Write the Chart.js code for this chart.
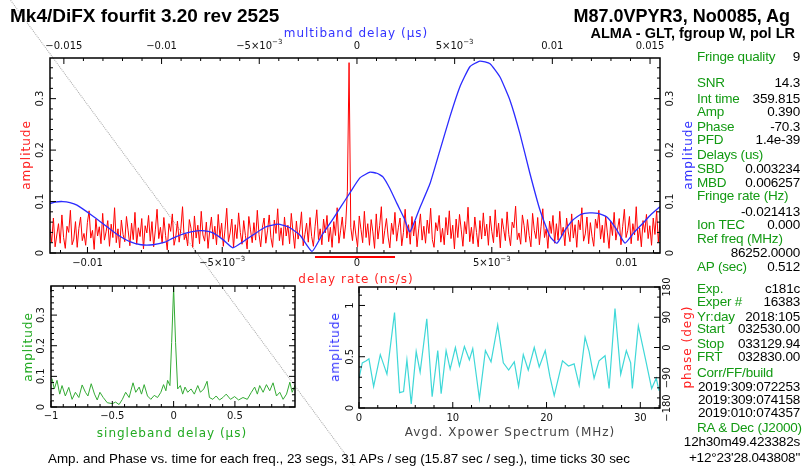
<!DOCTYPE html>
<html>
<head>
<meta charset="utf-8">
<script src="https://cdn.jsdelivr.net/npm/chart.js@4.4.0/dist/chart.umd.min.js"></script>
<style>
    body { margin: 0; background: #fff; width: 804px; height: 466px; overflow: hidden; position: relative; font-family: "Liberation Sans", Arial, sans-serif; }
    canvas { position: absolute; left: 0; top: 0; }
    .c { position: absolute; white-space: nowrap; transform: translate(-50%, -50%); }
    .rot { transform: translate(-50%, -50%) rotate(-90deg); }
    .ax { font-family: "DejaVu Sans", sans-serif; font-size: 12px; letter-spacing: 1px; }
    .row { position: absolute; left: 697px; width: 103px; display: flex; justify-content: space-between; font-size: 13.5px; line-height: 14px; white-space: nowrap; letter-spacing: -0.2px; }
    .g { color: #129a12; }
    .diag { position: absolute; left: 11px; top: 0; width: 579px; border-top: 1px dotted #aaa; transform-origin: 0 0; transform: rotate(53.6deg); }
</style>
</head>
<body>
<div class="diag"></div>
<canvas id="topChart" width="804" height="466"></canvas>
<canvas id="sbdChart" width="804" height="466"></canvas>
<canvas id="xpChart" width="804" height="466"></canvas>

<div class="c" style="left:10px;top:16px;transform:translate(0,-50%);font-size:19px;font-weight:bold;">Mk4/DiFX fourfit 3.20 rev 2525</div>
<div class="c" style="left:auto;right:14px;top:16px;transform:translate(0,-50%);font-size:18px;font-weight:bold;">M87.0VPYR3, No0085, Ag</div>
<div class="c" style="left:auto;right:9px;top:33px;transform:translate(0,-50%);font-size:14.5px;font-weight:bold;">ALMA - GLT, fgroup W, pol LR</div>

<div class="c ax" style="left:356px;top:33px;color:#3333ff;">multiband delay (μs)</div>
<div class="c ax" style="left:356px;top:279px;color:#ff2222;">delay rate (ns/s)</div>
<div class="c ax rot" style="left:26px;top:155px;color:#ff2222;">amplitude</div>
<div class="c ax rot" style="left:688px;top:155px;color:#3333ff;">amplitude</div>
<div class="c ax rot" style="left:28px;top:347px;color:#22aa22;">amplitude</div>
<div class="c ax" style="left:172px;top:433px;color:#22aa22;">singleband delay (μs)</div>
<div class="c ax rot" style="left:335px;top:347px;color:#3333ff;">amplitude</div>
<div class="c ax" style="left:510px;top:432px;color:#444;">Avgd. Xpower Spectrum (MHz)</div>
<div class="c ax rot" style="left:687px;top:347px;color:#ff2222;">phase (deg)</div>

<div class="c" style="left:339px;top:458px;font-size:13.4px;">Amp. and Phase vs. time for each freq., 23 segs, 31 APs / seg (15.87 sec / seg.), time ticks 30 sec</div>

<div class="row" style="top:50px"><span class="g">Fringe quality</span><span>9</span></div>
<div class="row" style="top:76px"><span class="g">SNR</span><span>14.3</span></div>
<div class="row" style="top:92px"><span class="g">Int time</span><span>359.815</span></div>
<div class="row" style="top:105px"><span class="g">Amp</span><span>0.390</span></div>
<div class="row" style="top:120px"><span class="g">Phase</span><span>-70.3</span></div>
<div class="row" style="top:133px"><span class="g">PFD</span><span>1.4e-39</span></div>
<div class="row" style="top:148px"><span class="g">Delays (us)</span><span></span></div>
<div class="row" style="top:162px"><span class="g">SBD</span><span>0.003234</span></div>
<div class="row" style="top:176px"><span class="g">MBD</span><span>0.006257</span></div>
<div class="row" style="top:189px"><span class="g">Fringe rate (Hz)</span><span></span></div>
<div class="row" style="top:205px"><span></span><span>-0.021413</span></div>
<div class="row" style="top:218px"><span class="g">Ion TEC</span><span>0.000</span></div>
<div class="row" style="top:232px"><span class="g">Ref freq (MHz)</span><span></span></div>
<div class="row" style="top:246px"><span></span><span>86252.0000</span></div>
<div class="row" style="top:260px"><span class="g">AP (sec)</span><span>0.512</span></div>
<div class="row" style="top:282px"><span class="g">Exp.</span><span>c181c</span></div>
<div class="row" style="top:295px"><span class="g">Exper #</span><span>16383</span></div>
<div class="row" style="top:310px"><span class="g">Yr:day</span><span>2018:105</span></div>
<div class="row" style="top:322px"><span class="g">Start</span><span>032530.00</span></div>
<div class="row" style="top:337px"><span class="g">Stop</span><span>033129.94</span></div>
<div class="row" style="top:350px"><span class="g">FRT</span><span>032830.00</span></div>
<div class="row" style="top:366px"><span class="g">Corr/FF/build</span><span></span></div>
<div class="row" style="top:380px"><span></span><span>2019:309:072253</span></div>
<div class="row" style="top:393px"><span></span><span>2019:309:074158</span></div>
<div class="row" style="top:406px"><span></span><span>2019:010:074357</span></div>
<div class="row" style="top:421px;width:110px"><span class="g">RA &amp; Dec (J2000)</span><span></span></div>
<div class="row" style="top:435px;left:680px;width:120px"><span></span><span>12h30m49.423382s</span></div>
<div class="row" style="top:451px;left:680px;width:120px"><span></span><span>+12°23'28.043808"</span></div>

<script>
// multiband delay amplitude (blue)
const mbdDelay = [-0.01581, -0.01546, -0.01505, -0.01469, -0.01433, -0.01356, -0.01279, -0.01223, -0.01162, -0.01105,
    -0.01044, -0.00983, -0.00942, -0.00880, -0.00819, -0.00778, -0.00737, -0.00686, -0.00635, -0.00583,
    -0.00532, -0.00471, -0.00404, -0.00348, -0.00292, -0.00230, -0.00179, -0.00123, -0.00082, -0.00041,
    0.00015, 0.00067, 0.00102, 0.00133, 0.00169, 0.00205, 0.00241, 0.00271, 0.00322, 0.00374,
    0.00425, 0.00476, 0.00527, 0.00578, 0.00629, 0.00681, 0.00732, 0.00783, 0.00834, 0.00885,
    0.00937, 0.00988, 0.01024, 0.01066, 0.01105, 0.01146, 0.01192, 0.01233, 0.01279, 0.01325,
    0.01372, 0.01418, 0.01464, 0.01505, 0.01551];
const mbdAmp = [0.095, 0.099, 0.100, 0.098, 0.093, 0.073, 0.051, 0.035, 0.022, 0.016,
    0.016, 0.021, 0.029, 0.038, 0.043, 0.043, 0.039, 0.026, 0.010, 0.022,
    0.035, 0.050, 0.056, 0.050, 0.035, 0.003, 0.035, 0.066, 0.090, 0.114,
    0.146, 0.157, 0.155, 0.148, 0.125, 0.096, 0.068, 0.041, 0.088, 0.135,
    0.200, 0.265, 0.323, 0.362, 0.373, 0.368, 0.342, 0.297, 0.232, 0.155,
    0.083, 0.032, 0.019, 0.045, 0.064, 0.075, 0.078, 0.077, 0.070, 0.048,
    0.019, 0.040, 0.058, 0.075, 0.090];

// delay rate spectrum (red), one value per sample from rateMin in rateStep steps
const rateMin = -0.01139;
const rateStep = 0.00006304;
const rateAmp = [
    .046,.021,.068,.012,.035,.057,.019,.074,.030,.009,.052,.040,.083,.016,.027,.061,.011,.048,.070,.024,
    .038,.015,.059,.082,.029,.044,.007,.066,.033,.051,.018,.077,.025,.041,.063,.013,.056,.030,.088,.020,
    .047,.010,.064,.036,.022,.071,.043,.014,.058,.026,.079,.017,.049,.032,.067,.008,.053,.039,.073,.023,
    .061,.012,.045,.085,.028,.050,.019,.069,.034,.006,.057,.042,.076,.015,.031,.062,.021,.047,.090,.026,
    .037,.014,.065,.048,.011,.072,.029,.054,.018,.081,.035,.023,.060,.009,.044,.070,.027,.052,.016,.075,
    .031,.058,.013,.046,.087,.022,.039,.066,.010,.055,.028,.078,.040,.017,.063,.034,.008,.071,.045,.020,
    .059,.025,.083,.036,.012,.050,.068,.019,.043,.074,.030,.011,.064,.038,.086,.024,.049,.015,.070,.033,
    .054,.018,.077,.041,.009,.062,.027,.045,.080,.014,.036,.058,.021,.069,.032,.013,.052,.084,.026,.047,
    .016,.066,.039,.073,.022,.050,.011,.061,.034,.088,.019,.043,.070,.028,.056,.120,.370,.050,.024,.063,
    .035,.012,.072,.046,.020,.081,.030,.057,.015,.065,.041,.009,.076,.027,.053,.090,.018,.044,.067,.031,
    .010,.058,.036,.079,.023,.049,.068,.014,.040,.085,.029,.055,.017,.071,.033,.062,.012,.047,.076,.025,
    .052,.019,.064,.038,.087,.026,.011,.059,.043,.073,.021,.048,.016,.069,.035,.082,.028,.054,.008,.066,
    .030,.075,.045,.013,.061,.037,.089,.022,.050,.018,.070,.040,.012,.063,.027,.078,.033,.056,.015,.072,
    .042,.020,.084,.031,.058,.010,.067,.046,.024,.080,.036,.014,.060,.049,.091,.026,.039,.017,.074,.053,
    .021,.065,.034,.012,.077,.044,.028,.069,.016,.052,.086,.030,.047,.009,.062,.038,.073,.019,.057,.025,
    .081,.033,.050,.014,.068,.041,.022,.076,.029,.055,.011,.064,.045,.088,.023,.037,.070,.018,.059,.032,
    .013,.066,.048,.083,.027,.054,.020,.072,.039,.009,.061,.034,.079,.025,.046,.067,.016,.051,.085,.030,
    .044,.071,.018,.057,.035,.090,.024,.049,.012,.063,.040,.075,.028,.053,.015,.068,.036,.082,.021,.060
];
// delay rate search window, drawn just under the axis
const rateWindow = [-0.00156, 0.00141];

// singleband delay (green)
const sbdDelay = [-0.992, -0.973, -0.951, -0.929, -0.910, -0.883, -0.855, -0.828, -0.801, -0.773,
    -0.746, -0.719, -0.699, -0.672, -0.645, -0.623, -0.601, -0.574, -0.541, -0.500,
    -0.473, -0.445, -0.418, -0.391, -0.363, -0.331, -0.309, -0.281, -0.262, -0.240,
    -0.213, -0.186, -0.158, -0.131, -0.104, -0.082, -0.063, -0.049, -0.030, -0.016,
    0.000, 0.016, 0.033, 0.055, 0.074, 0.093, 0.115, 0.142, 0.169, 0.197,
    0.219, 0.246, 0.273, 0.292, 0.320, 0.347, 0.374, 0.402, 0.429, 0.464,
    0.497, 0.530, 0.566, 0.601, 0.634, 0.661, 0.683, 0.702, 0.730, 0.757,
    0.784, 0.811, 0.839, 0.866, 0.893, 0.921, 0.948, 0.967, 0.989, 1.003];
const sbdAmp = [0.093, 0.059, 0.087, 0.042, 0.070, 0.036, 0.064, 0.025, 0.048, 0.031,
    0.072, 0.048, 0.036, 0.076, 0.042, 0.023, 0.048, 0.031, 0.014, 0.011,
    0.016, 0.008, 0.025, 0.048, 0.031, 0.079, 0.048, 0.065, 0.042, 0.073,
    0.036, 0.025, 0.038, 0.031, 0.048, 0.073, 0.053, 0.087, 0.070, 0.210,
    0.390, 0.210, 0.059, 0.070, 0.042, 0.065, 0.048, 0.059, 0.042, 0.070,
    0.048, 0.059, 0.084, 0.031, 0.025, 0.036, 0.023, 0.031, 0.042, 0.025,
    0.034, 0.023, 0.031, 0.025, 0.048, 0.065, 0.042, 0.070, 0.048, 0.073,
    0.053, 0.079, 0.036, 0.048, 0.025, 0.042, 0.081, 0.048, 0.070, 0.042];

// averaged cross power spectrum (cyan)
const xpFreq = [0.00, 0.35, 0.78, 1.06, 1.56, 2.27, 2.98, 3.79, 4.33, 4.75,
    5.11, 5.57, 6.10, 6.52, 7.23, 7.80, 8.40, 8.76, 9.29, 9.72,
    10.28, 10.71, 11.24, 11.77, 12.13, 12.84, 13.48, 14.08, 14.79, 15.39,
    15.96, 16.56, 17.02, 17.52, 18.05, 18.69, 19.22, 19.86, 20.35, 20.82,
    21.70, 22.34, 22.94, 23.48, 24.11, 24.54, 25.07, 25.60, 26.24, 26.67,
    27.30, 27.91, 28.51, 28.97, 29.15, 29.79, 30.57, 31.21, 31.70, 31.99];
const xpAmp = [0.29, 0.44, 0.46, 0.48, 0.21, 0.52, 0.33, 0.93, 0.15, 0.16,
    0.47, 0.04, 0.55, 0.35, 0.87, 0.11, 0.56, 0.14, 0.56, 0.38,
    0.59, 0.41, 0.60, 0.47, 0.58, 0.09, 0.56, 0.45, 0.81, 0.44,
    0.37, 0.45, 0.21, 0.52, 0.37, 0.59, 0.40, 0.56, 0.31, 0.12,
    0.46, 0.41, 0.43, 0.22, 0.69, 0.55, 0.29, 0.46, 0.51, 0.19,
    0.97, 0.33, 0.56, 0.44, 0.19, 0.80, 0.47, 0.19, 0.29, 0.17];

const tickFont = '"DejaVu Sans", sans-serif';

// 0, 0.01, 5x10^-3 style labels like the pgplot output
function fmtSmall(v) {
    const s = v < 0 ? '\u2212' : '';
    const a = Math.abs(v);
    if (a < 1e-9) return ['0', ''];
    if (Math.abs(a - 0.005) < 1e-9) return [s + '5\u00d710', '\u22123'];
    return [s + String(a), ''];
}
function fmtPlain(v) {
    const a = Math.abs(v);
    return [(v < 0 ? '\u2212' : '') + String(a), ''];
}

function drawLabel(ctx, side, v, p, a) {
    const [main, sup] = side.fmt(Math.round(v * 1e9) / 1e9);
    ctx.font = '10px ' + tickFont;
    const w1 = ctx.measureText(main).width;
    ctx.font = '7px ' + tickFont;
    const w2 = sup ? ctx.measureText(sup).width : 0;
    let cx, cy, rot = 0;
    if (side.edge === 'bottom') { cx = p; cy = a.bottom + side.off; }
    else if (side.edge === 'top') { cx = p; cy = a.top - side.off; }
    else if (side.edge === 'left') { cx = a.left - side.off; cy = p; rot = -Math.PI / 2; }
    else { cx = a.right + side.off; cy = p; rot = -Math.PI / 2; }
    ctx.save();
    ctx.translate(cx, cy);
    ctx.rotate(rot);
    ctx.textBaseline = 'middle';
    ctx.textAlign = 'left';
    const x0 = -(w1 + w2) / 2;
    ctx.font = '10px ' + tickFont;
    ctx.fillText(main, x0, 0);
    if (sup) {
        ctx.font = '7px ' + tickFont;
        ctx.fillText(sup, x0 + w1, -4);
    }
    ctx.restore();
}

// box + inward ticks on every side, labels where asked
const framePlugin = {
    id: 'frame',
    afterDatasetsDraw(chart, args, opts) {
        const ctx = chart.ctx;
        const a = chart.chartArea;
        ctx.save();
        ctx.strokeStyle = '#000';
        ctx.lineWidth = 1.5;
        ctx.strokeRect(a.left, a.top, a.right - a.left, a.bottom - a.top);
        ctx.lineWidth = 1;
        ctx.fillStyle = '#111';
        (opts.sides || []).forEach(side => {
            const scale = chart.scales[side.axis];
            const per = Math.round(side.major / side.minor);
            const k0 = Math.ceil(scale.min / side.minor - 1e-6);
            const k1 = Math.floor(scale.max / side.minor + 1e-6);
            for (let k = k0; k <= k1; k++) {
                const v = k * side.minor;
                const isMajor = k % per === 0;
                const len = isMajor ? 6 : 3;
                const p = scale.getPixelForValue(v);
                ctx.beginPath();
                if (side.edge === 'bottom') { ctx.moveTo(p, a.bottom); ctx.lineTo(p, a.bottom - len); }
                else if (side.edge === 'top') { ctx.moveTo(p, a.top); ctx.lineTo(p, a.top + len); }
                else if (side.edge === 'left') { ctx.moveTo(a.left, p); ctx.lineTo(a.left + len, p); }
                else { ctx.moveTo(a.right, p); ctx.lineTo(a.right - len, p); }
                ctx.stroke();
                if (isMajor && side.labels) drawLabel(ctx, side, v, p, a);
            }
        });
        ctx.restore();
    }
};

function hidden(extra) {
    return Object.assign({ type: 'linear', display: false }, extra);
}

const baseOptions = {
    responsive: false,
    animation: false,
    devicePixelRatio: 1,
    elements: { point: { radius: 0 } },
    plugins: { legend: { display: false }, tooltip: { enabled: false } }
};

new Chart(document.getElementById('topChart'), {
    type: 'line',
    data: {
        datasets: [
            {
                data: mbdDelay.map((x, i) => ({ x: x, y: mbdAmp[i] })),
                xAxisID: 'xMbd', yAxisID: 'yAmp',
                borderColor: '#2b2bff', borderWidth: 1.3,
                tension: 0.15, order: 0
            },
            {
                data: rateAmp.map((y, i) => ({ x: rateMin + i * rateStep, y: y })),
                xAxisID: 'xRate', yAxisID: 'yAmp',
                borderColor: '#ff0000', borderWidth: 1, tension: 0, order: 1
            },
            {
                data: rateWindow.map(x => ({ x: x, y: -0.008 })),
                xAxisID: 'xRate', yAxisID: 'yAmp',
                borderColor: '#ff0000', borderWidth: 2, clip: false, order: 2
            }
        ]
    },
    options: Object.assign({}, baseOptions, {
        layout: { padding: { left: 50, top: 58, right: 144, bottom: 213 } },
        scales: {
            xRate: hidden({ position: 'bottom', min: -0.01139, max: 0.01124 }),
            xMbd: hidden({ position: 'top', min: -0.01571, max: 0.01551 }),
            yAmp: hidden({ position: 'left', min: 0, max: 0.379 }),
            yAmpR: hidden({ position: 'right', min: 0, max: 0.379 })
        },
        plugins: Object.assign({}, baseOptions.plugins, {
            frame: {
                sides: [
                    { axis: 'xRate', edge: 'bottom', major: 0.005, minor: 0.001, labels: true, off: 10, fmt: fmtSmall },
                    { axis: 'xMbd', edge: 'top', major: 0.005, minor: 0.001, labels: true, off: 12, fmt: fmtSmall },
                    { axis: 'yAmp', edge: 'left', major: 0.1, minor: 0.02, labels: true, off: 10, fmt: fmtPlain },
                    { axis: 'yAmpR', edge: 'right', major: 0.1, minor: 0.02, labels: true, off: 10, fmt: fmtPlain }
                ]
            }
        })
    }),
    plugins: [framePlugin]
});

new Chart(document.getElementById('sbdChart'), {
    type: 'line',
    data: {
        datasets: [{
            data: sbdDelay.map((x, i) => ({ x: x, y: sbdAmp[i] })),
            xAxisID: 'x', yAxisID: 'y',
            borderColor: '#33aa33', borderWidth: 1, tension: 0
        }]
    },
    options: Object.assign({}, baseOptions, {
        layout: { padding: { left: 51, top: 286, right: 509, bottom: 59 } },
        scales: {
            x: hidden({ position: 'bottom', min: -1, max: 0.99 }),
            y: hidden({ position: 'left', min: 0, max: 0.395 })
        },
        plugins: Object.assign({}, baseOptions.plugins, {
            frame: {
                sides: [
                    { axis: 'x', edge: 'bottom', major: 0.5, minor: 0.1, labels: true, off: 9, fmt: fmtPlain },
                    { axis: 'x', edge: 'top', major: 0.5, minor: 0.1 },
                    { axis: 'y', edge: 'left', major: 0.1, minor: 0.02, labels: true, off: 10, fmt: fmtPlain },
                    { axis: 'y', edge: 'right', major: 0.1, minor: 0.02 }
                ]
            }
        })
    }),
    plugins: [framePlugin]
});

new Chart(document.getElementById('xpChart'), {
    type: 'line',
    data: {
        datasets: [{
            data: xpFreq.map((x, i) => ({ x: x, y: xpAmp[i] })),
            xAxisID: 'x', yAxisID: 'y',
            borderColor: '#3fd8d8', borderWidth: 1.2, tension: 0
        }]
    },
    options: Object.assign({}, baseOptions, {
        layout: { padding: { left: 359, top: 287, right: 144, bottom: 58 } },
        scales: {
            x: hidden({ position: 'bottom', min: 0, max: 32.1 }),
            y: hidden({ position: 'left', min: 0, max: 1.18 }),
            yPhase: hidden({ position: 'right', min: -180, max: 180 })
        },
        plugins: Object.assign({}, baseOptions.plugins, {
            frame: {
                sides: [
                    { axis: 'x', edge: 'bottom', major: 10, minor: 2, labels: true, off: 10, fmt: fmtPlain },
                    { axis: 'x', edge: 'top', major: 10, minor: 2 },
                    { axis: 'y', edge: 'left', major: 0.5, minor: 0.1, labels: true, off: 9, fmt: fmtPlain },
                    { axis: 'yPhase', edge: 'right', major: 90, minor: 30, labels: true, off: 7, fmt: fmtPlain }
                ]
            }
        })
    }),
    plugins: [framePlugin]
});
</script>
</body>
</html>
